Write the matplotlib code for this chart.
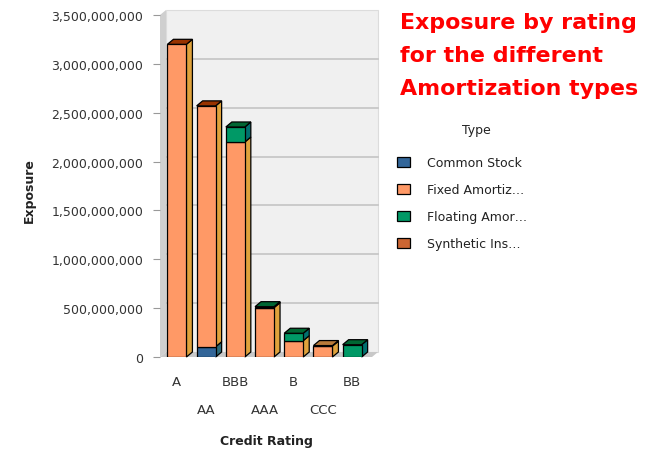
import matplotlib
matplotlib.use("Agg")
import matplotlib.pyplot as plt
from matplotlib.patches import Polygon, Patch
from matplotlib.ticker import FuncFormatter
import numpy as np

plt.rcParams['font.family'] = ['DejaVu Sans']

# ---- data ----
ratings = ["A", "AA", "BBB", "AAA", "B", "CCC", "BB"]
series_names = ["Common Stock", "Fixed Amortiz\u2026", "Floating Amor\u2026", "Synthetic Ins\u2026"]
common_stock = [0, 105e6, 0, 0, 0, 0, 0]
fixed_amort = [3200e6, 2465e6, 2200e6, 505e6, 167e6, 112e6, 0]
floating_amor = [0, 0, 154e6, 10e6, 76e6, 0, 126e6]
synthetic_ins = [0, 0, 0, 0, 0, 5e6, 0]
y_ticks = [0, 500e6, 1000e6, 1500e6, 2000e6, 2500e6, 3000e6, 3500e6]

# ---- styling ----
front_colors = ["#336699", "#ff9966", "#009966", "#cc6633"]
side_colors = ["#2c6a78", "#dfa23c", "#00706e", "#b57a38"]
top_colors = ["#28507a", "#993300", "#006633", "#b87a3a"]

W, H, DPI = 6.54, 4.52, 100
fig = plt.figure(figsize=(W, H), dpi=DPI)
ax_l, ax_r, ax_t, ax_b = 160, 372, 16, 358
ax = fig.add_axes([ax_l / 654, (452 - ax_b) / 452, (ax_r - ax_l) / 654, (ax_b - ax_t) / 452])

x0, x1 = -0.58, 6.68
y0, y1 = 0, 3.5e9
ax.set_xlim(x0, x1)
ax.set_ylim(y0, y1)

# depth of the 3D extrusion in data units
DXP, DYP = 6, 5
dx = DXP * (x1 - x0) / (ax_r - ax_l)
dy = DYP * (y1 - y0) / (ax_b - ax_t)

for s in ax.spines.values():
    s.set_visible(False)
ax.patch.set_visible(False)

# back wall, side wall, floor
ax.add_patch(Polygon([(x0 + dx, dy), (x1 + dx, dy), (x1 + dx, y1 + dy), (x0 + dx, y1 + dy)],
                     closed=True, facecolor="#f0f0f0", edgecolor="#dcdcdc", lw=0.8,
                     zorder=0, clip_on=False))
for v in y_ticks[1:-1]:
    ax.plot([x0 + dx, x1 + dx], [v + dy, v + dy], color="#c4c4c4", lw=1.2, zorder=0.5, clip_on=False)
ax.add_patch(Polygon([(x0, 0), (x0 + dx, dy), (x0 + dx, y1 + dy), (x0, y1)],
                     closed=True, facecolor="#cfcfcf", edgecolor="none", zorder=0.6, clip_on=False))
ax.add_patch(Polygon([(x0, 0), (x1, 0), (x1 + dx, dy), (x0 + dx, dy)],
                     closed=True, facecolor="#c8c8c8", edgecolor="none", zorder=0.6, clip_on=False))

# stacked 3D bars
xs = np.arange(len(ratings))
bw = 0.65
stack = [common_stock, fixed_amort, floating_amor, synthetic_ins]
bottoms = np.zeros(len(ratings))
for si, vals in enumerate(stack):
    vals = np.array(vals, dtype=float)
    mask = vals > 0
    ax.bar(xs[mask], vals[mask], width=bw, bottom=bottoms[mask], color=front_colors[si],
           edgecolor="black", linewidth=0.9, zorder=3)
    for i in np.where(mask)[0]:
        b, t = bottoms[i], bottoms[i] + vals[i]
        xr = xs[i] + bw / 2
        ax.add_patch(Polygon([(xr, b), (xr + dx, b + dy), (xr + dx, t + dy), (xr, t)],
                             closed=True, facecolor=side_colors[si], edgecolor="black",
                             lw=0.9, zorder=2.9, clip_on=False))
    bottoms = bottoms + vals

totals = bottoms
for i in range(len(ratings)):
    # colour of the top face follows the uppermost segment
    top_si = max(si for si in range(4) if stack[si][i] > 0)
    t = totals[i]
    xl, xr = xs[i] - bw / 2, xs[i] + bw / 2
    ax.add_patch(Polygon([(xl, t), (xl + dx, t + dy), (xr + dx, t + dy), (xr, t)],
                         closed=True, facecolor=top_colors[top_si], edgecolor="black",
                         lw=0.9, zorder=3.1, clip_on=False))

# axes ticks and labels
ax.set_yticks(y_ticks)
ax.yaxis.set_major_formatter(FuncFormatter(lambda v, p: f"{int(v):,}"))
ax.tick_params(axis="y", length=5, width=0.8, color="#999999", pad=7,
               labelsize=9, labelcolor="#333333")
labels = [r if i % 2 == 0 else "\n" + r for i, r in enumerate(ratings)]
ax.set_xticks(xs)
ax.set_xticklabels(labels)
ax.tick_params(axis="x", length=0, pad=13, labelsize=9.5, labelcolor="#333333")
for lab in ax.get_xticklabels():
    lab.set_linespacing(2.5)

ax.set_ylabel("Exposure", fontsize=9, fontweight="bold", color="#222222")
ax.yaxis.set_label_coords(-131 / (ax_r - ax_l), 0.49)
ax.set_xlabel("Credit Rating", fontsize=9, fontweight="bold", color="#222222")
ax.xaxis.set_label_coords(0.5, -(442 - ax_b) / (ax_b - ax_t))
ax.xaxis.label.set_va("center")
ax.yaxis.label.set_va("center")

# title
fig.text(400 / 654, 1 - 13 / 452, "Exposure by rating\nfor the different\nAmortization types",
         ha="left", va="top", color="#ff0000", fontsize=15.9, fontweight="bold", linespacing=1.8)

# legend
handles = [Patch(facecolor=c, edgecolor="black", linewidth=0.9) for c in front_colors]
leg = fig.legend(handles, series_names, loc="upper left",
                 bbox_to_anchor=(397 / 654, 1 - 157 / 452), frameon=False,
                 fontsize=9, labelspacing=1.12,
                 handlelength=1.05, handleheight=0.9, handletextpad=1.35, borderpad=0,
                 borderaxespad=0)
for txt in leg.get_texts():
    txt.set_color("#222222")
fig.text(476 / 654, 1 - 131 / 452, "Type", ha="center", va="center",
         fontsize=9, color="#222222")

fig.savefig("out.png", dpi=DPI)
